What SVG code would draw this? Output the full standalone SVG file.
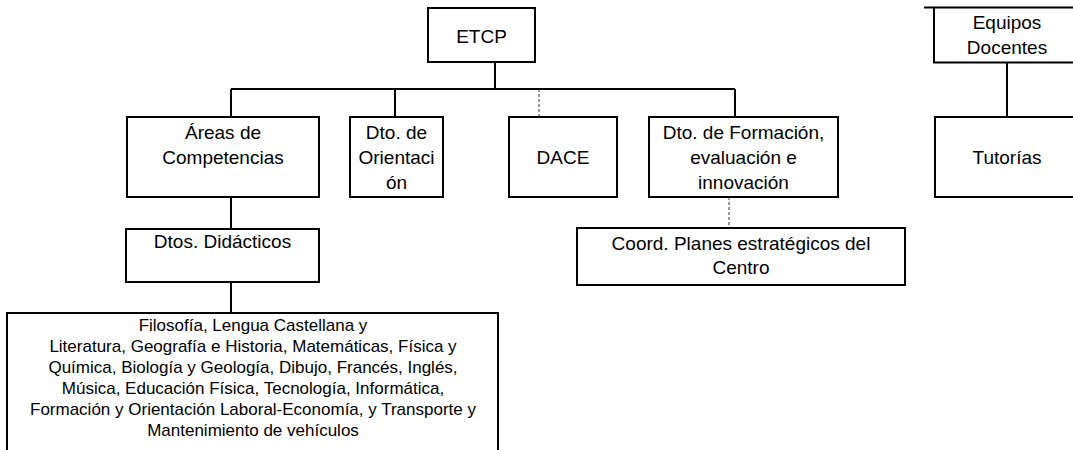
<svg xmlns="http://www.w3.org/2000/svg" width="1073" height="450" viewBox="0 0 1073 450">
<style>
.box{fill:#fff;stroke:#000;stroke-width:2}
.ln{stroke:#000;stroke-width:2;fill:none}
.dash{stroke:#333;stroke-width:1;stroke-dasharray:3 2;fill:none}
text{font-family:"Liberation Sans",Arial,sans-serif;font-size:19px;fill:#000;text-anchor:middle}
.sm{font-size:17px}
</style>
<rect width="1073" height="450" fill="#fff"/>
<g id="connectors">
<path class="ln" d="M495,62V89M231,89H735M231,89V117M395,89V117M735,89V117"/>
<path class="dash" d="M539,89V117M729,197V228"/>
<path class="ln" d="M231,197V229M231,282V313"/>
<path class="ln" d="M1007,62V117M924,7.5H934"/>
</g>
<g id="etcp"><rect class="box" x="428" y="8" width="107" height="54"/><text x="481.5" y="43">ETCP</text></g>
<g id="areas"><rect class="box" x="127" y="117" width="192" height="80"/><text x="223" y="139">Áreas de</text><text x="223" y="164">Competencias</text></g>
<g id="orientacion"><rect class="box" x="350" y="117" width="93" height="80"/><text x="396.5" y="139">Dto. de</text><text x="396.5" y="164">Orientaci</text><text x="396.5" y="189">ón</text></g>
<g id="dace"><rect class="box" x="509" y="117" width="108" height="80"/><text x="563" y="164">DACE</text></g>
<g id="formacion"><rect class="box" x="649" y="117" width="189" height="80"/><text x="743.5" y="139">Dto. de Formación,</text><text x="743.5" y="164">evaluación e</text><text x="743.5" y="189">innovación</text></g>
<g id="coord"><rect class="box" x="577" y="228" width="328" height="57"/><text x="741" y="250">Coord. Planes estratégicos del</text><text x="741" y="274">Centro</text></g>
<g id="dtos"><rect class="box" x="126" y="229" width="193" height="53"/><text x="222.5" y="248">Dtos. Didácticos</text></g>
<g id="materias"><rect class="box" x="7" y="313" width="491" height="150"/>
<text class="sm" x="253" y="331">Filosofía, Lengua Castellana y</text>
<text class="sm" x="253" y="352">Literatura, Geografía e Historia, Matemáticas, Física y</text>
<text class="sm" x="253" y="373">Química, Biología y Geología, Dibujo, Francés, Inglés,</text>
<text class="sm" x="253" y="394">Música, Educación Física, Tecnología, Informática,</text>
<text class="sm" x="253" y="415">Formación y Orientación Laboral-Economía, y Transporte y</text>
<text class="sm" x="253" y="436">Mantenimiento de vehículos</text>
</g>
<g id="equipos"><rect class="box" x="934" y="7.5" width="150" height="55"/><text x="1007" y="29">Equipos</text><text x="1007" y="54">Docentes</text></g>
<g id="tutorias"><rect class="box" x="935" y="117" width="150" height="80"/><text x="1007" y="164">Tutorías</text></g>
</svg>
